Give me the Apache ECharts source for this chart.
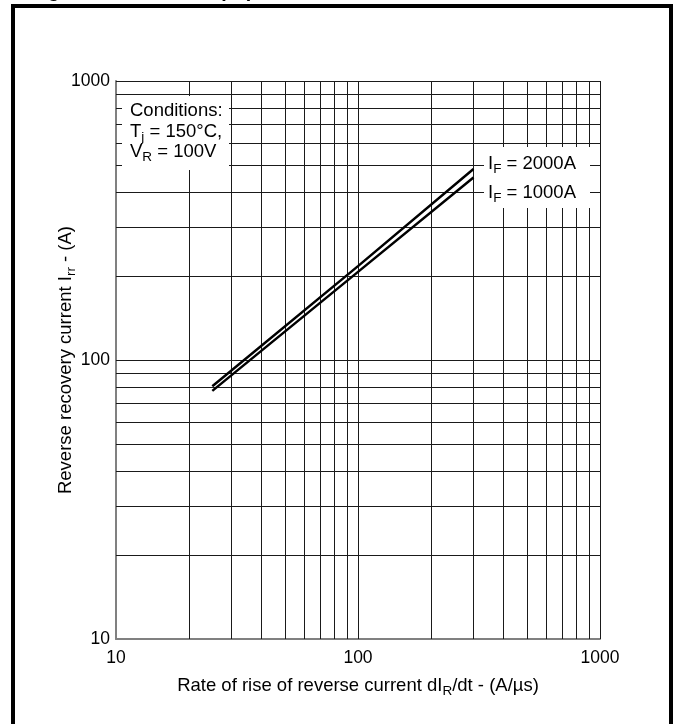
<!DOCTYPE html>
<html>
<head>
<meta charset="utf-8">
<script src="https://cdn.jsdelivr.net/npm/echarts@6/dist/echarts.min.js"></script>
<style>
html, body { margin: 0; padding: 0; background: #fff; }
#main { width: 677px; height: 724px; }
</style>
</head>
<body>
<div id="main"></div>
<script>
// 坐标轴范围
var xMin = 10, xMax = 1000
var yMin = 10, yMax = 1000
// 网格线位置 (10 处由坐标轴线代替)
var xGridValues = [20, 30, 40, 50, 60, 70, 80, 90, 100, 200, 300, 400, 500, 600, 700, 800, 900, 1000]
var yGridValues = [20, 30, 40, 50, 60, 70, 80, 90, 100, 200, 300, 400, 500, 600, 700, 800, 900, 1000]
// 读图得到的曲线点: dIR/dt (A/us) -> Irr (A)
var rateValues = [25, 100, 300]
var irr2000A = [80.5, 217, 484]
var irr1000A = [77.5, 207, 451]
var forwardCurrents = ['2000A', '1000A']
// 条件说明
var conditionLines = ['{a|Conditions:}', '{a|T}{s|j}{a| = 150°C,}', '{a|V}{s|R}{a| = 100V}']

var FONT = '"Liberation Sans", Arial, Helvetica, sans-serif'
var richText = {
    a: { fontSize: 18.5, fontFamily: FONT, color: '#000' },
    s: { fontSize: 13.5, fontFamily: FONT, color: '#000', padding: [11, 0, 0, 0] }
}
var richAxis = {
    a: { fontSize: 18.5, fontFamily: FONT, color: '#000' },
    s: { fontSize: 13.5, fontFamily: FONT, color: '#000', padding: [11, 0, 0, 0] }
}

function zip(xs, ys) {
    return xs.map(function (x, i) { return [x, ys[i]] })
}

var gridLines = xGridValues.map(function (v) { return { xAxis: v } })
    .concat(yGridValues.map(function (v) { return { yAxis: v } }))

var myChart = echarts.init(document.getElementById('main'), null, { renderer: 'canvas' })

var option = {
    animation: false,
    backgroundColor: '#fff',
    grid: { left: 116, right: 77, top: 81, bottom: 85 },
    xAxis: {
        type: 'log',
        logBase: 10,
        min: xMin,
        max: xMax,
        splitNumber: 2,
        axisLine: { show: true, lineStyle: { color: '#808080', width: 2 } },
        axisTick: { show: false },
        splitLine: { show: false },
        axisLabel: {
            fontSize: 17.5, fontFamily: FONT, color: '#000', margin: 10,
            formatter: function (v) { return String(Math.round(v)) }
        },
        name: '{a|Rate of rise of reverse current dI}{s|R}{a|/dt - (A/µs)}',
        nameLocation: 'middle',
        nameGap: 34,
        nameMoveOverlap: false,
        nameTextStyle: { rich: richAxis }
    },
    yAxis: {
        type: 'log',
        logBase: 10,
        min: yMin,
        max: yMax,
        splitNumber: 2,
        axisLine: { show: true, lineStyle: { color: '#808080', width: 2 } },
        axisTick: { show: false },
        splitLine: { show: false },
        axisLabel: {
            fontSize: 17.5, fontFamily: FONT, color: '#000', margin: 6,
            formatter: function (v) { return String(Math.round(v)) }
        },
        name: '{a|Reverse recovery current I}{s|rr}{a| - (A)}',
        nameLocation: 'middle',
        nameGap: 38,
        nameMoveOverlap: false,
        nameTextStyle: { rich: richAxis }
    },
    series: [
        {
            // 网格线
            type: 'line',
            name: 'grid',
            data: [],
            z: 1,
            silent: true,
            markLine: {
                silent: true,
                symbol: ['none', 'none'],
                label: { show: false },
                emphasis: { disabled: true },
                lineStyle: { type: 'solid', color: '#1a1a1a', width: 1 },
                data: gridLines
            }
        },
        {
            type: 'line',
            name: 'IF = ' + forwardCurrents[0],
            data: zip(rateValues, irr2000A),
            showSymbol: false,
            z: 5,
            lineStyle: { color: '#000', width: 2.5 }
        },
        {
            type: 'line',
            name: 'IF = ' + forwardCurrents[1],
            data: zip(rateValues, irr1000A),
            showSymbol: false,
            z: 5,
            lineStyle: { color: '#000', width: 2.5 }
        }
    ],
    graphic: [
        {
            // 外框
            type: 'rect',
            z: 100,
            shape: { x: 13, y: 6, width: 658, height: 760 },
            style: { fill: 'none', stroke: '#000', lineWidth: 4 }
        },
        {
            // 被裁掉的标题，只露出下缘
            type: 'text',
            z: 100,
            x: 30,
            y: -19,
            style: { text: 'Figure 10 – Current (Irr)', fontSize: 20, fontWeight: 'bold', fontFamily: FONT, fill: '#000' }
        },
        {
            type: 'rect',
            z: 90,
            shape: { x: 122, y: 96, width: 107, height: 74 },
            style: { fill: '#fff' }
        },
        {
            type: 'text',
            z: 100,
            x: 130,
            y: 101,
            style: { text: conditionLines.join('\n'), rich: richText, lineHeight: 20.5 }
        },
        {
            type: 'rect',
            z: 90,
            shape: { x: 484, y: 147, width: 106, height: 61 },
            style: { fill: '#fff' }
        },
        {
            type: 'text',
            z: 100,
            x: 488,
            y: 151,
            style: { text: '{a|I}{s|F}{a| = ' + forwardCurrents[0] + '}', rich: richText }
        },
        {
            type: 'text',
            z: 100,
            x: 488,
            y: 180,
            style: { text: '{a|I}{s|F}{a| = ' + forwardCurrents[1] + '}', rich: richText }
        }
    ]
}

myChart.setOption(option)
window.addEventListener('resize', () => {
    myChart.resize()
})
</script>
</body>
</html>
